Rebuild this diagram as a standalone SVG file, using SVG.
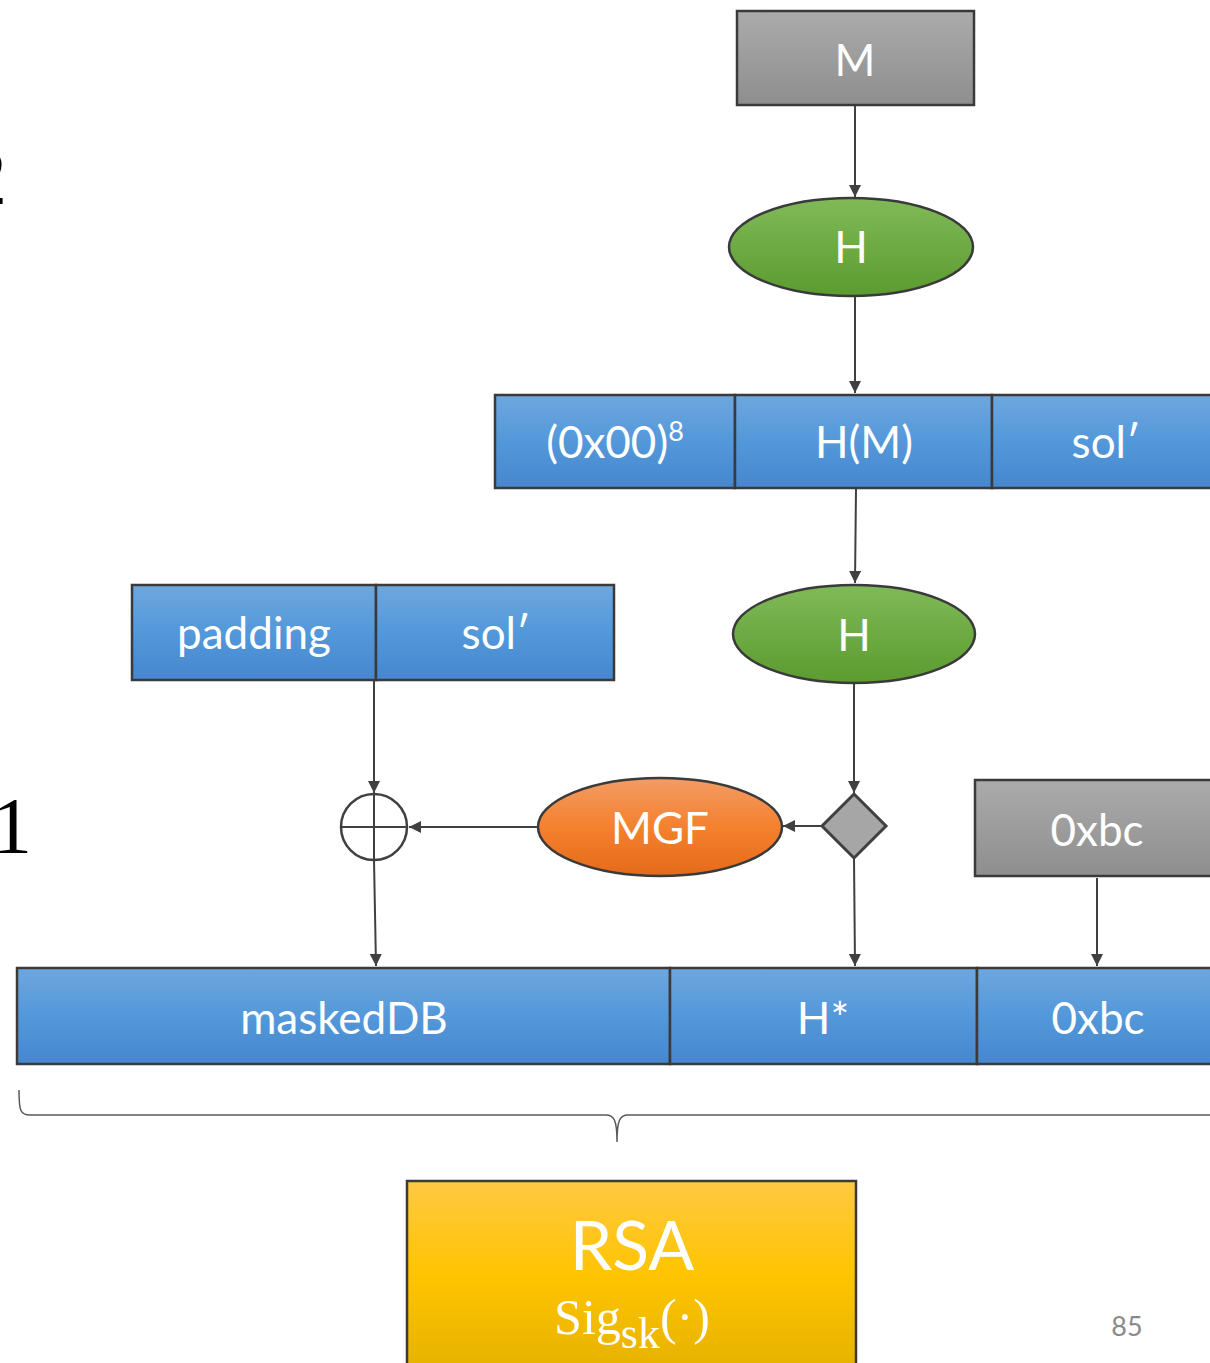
<svg xmlns="http://www.w3.org/2000/svg" width="1210" height="1363" viewBox="0 0 1210 1363">
<defs>
<linearGradient id="gGray" x1="0" y1="0" x2="0" y2="1"><stop offset="0" stop-color="#ababab"/><stop offset="1" stop-color="#8e8e8e"/></linearGradient>
<linearGradient id="gBlue" x1="0" y1="0" x2="0" y2="1"><stop offset="0" stop-color="#6fa7de"/><stop offset="0.5" stop-color="#5398da"/><stop offset="1" stop-color="#4687cf"/></linearGradient>
<linearGradient id="gGreen" x1="0" y1="0" x2="0" y2="1"><stop offset="0" stop-color="#80ba58"/><stop offset="1" stop-color="#5b9b2f"/></linearGradient>
<linearGradient id="gOrange" x1="0" y1="0" x2="0" y2="1"><stop offset="0" stop-color="#f49b64"/><stop offset="0.5" stop-color="#f4812e"/><stop offset="1" stop-color="#e46a1a"/></linearGradient>
<linearGradient id="gYellow" x1="0" y1="0" x2="0" y2="1"><stop offset="0" stop-color="#ffc942"/><stop offset="0.5" stop-color="#ffc400"/><stop offset="1" stop-color="#e6b200"/></linearGradient>
<marker id="arr" viewBox="0 0 10 10" refX="10" refY="5" markerWidth="12" markerHeight="12" markerUnits="userSpaceOnUse" orient="auto"><path d="M0,0 L10,5 L0,10 Z" fill="#404040"/></marker>
<style>
.box{stroke:#3a3a3a;stroke-width:2.5}
.lbl{font-family:Lato,"Open Sans","Liberation Sans",sans-serif;fill:#ffffff;text-anchor:middle;font-size:44px}
.conn{stroke:#404040;stroke-width:2;fill:none;marker-end:url(#arr)}
.side{font-family:"Liberation Serif","DejaVu Serif",serif;font-size:80px;fill:#000}
</style>
</defs>

<text class="side" x="-33" y="204">2</text>
<text class="side" x="-8" y="853">1</text>

<g id="node-M">
<rect class="box" x="737" y="11" width="237" height="94" fill="url(#gGray)"/>
<text class="lbl" x="855" y="76">M</text>
</g>
<g id="node-H1">
<ellipse class="box" cx="851" cy="247" rx="122" ry="49" fill="url(#gGreen)"/>
<text class="lbl" x="851" y="263">H</text>
</g>
<g id="node-Mprime">
<rect class="box" x="495" y="395" width="240" height="93" fill="url(#gBlue)"/>
<text class="lbl" x="615" y="458">(0x00)<tspan style="font-size:27px" dy="-17">8</tspan></text>
<rect class="box" x="735" y="395" width="257" height="93" fill="url(#gBlue)"/>
<text class="lbl" x="864" y="458">H(M)</text>
<rect class="box" x="992" y="395" width="225" height="93" fill="url(#gBlue)"/>
<text class="lbl" x="1106" y="458">sol′</text>
</g>
<g id="node-H2">
<ellipse class="box" cx="854" cy="634" rx="121" ry="49" fill="url(#gGreen)"/>
<text class="lbl" x="854" y="651">H</text>
</g>
<g id="node-DB">
<rect class="box" x="132" y="585" width="244" height="95" fill="url(#gBlue)"/>
<text class="lbl" x="254" y="649">padding</text>
<rect class="box" x="376" y="585" width="238" height="95" fill="url(#gBlue)"/>
<text class="lbl" x="496" y="649">sol′</text>
</g>
<g id="node-split">
<path d="M854,794 L886,826 L854,858 L822,826 Z" fill="#a6a6a6" stroke="#404040" stroke-width="3"/>
</g>
<g id="node-MGF">
<ellipse class="box" cx="660" cy="827" rx="122" ry="49" fill="url(#gOrange)"/>
<text class="lbl" x="660" y="844">MGF</text>
</g>
<g id="node-xor">
<circle cx="374" cy="827" r="33" fill="#fff" stroke="#404040" stroke-width="2.5"/>
<line x1="341" y1="827" x2="407" y2="827" stroke="#404040" stroke-width="2"/>
<line x1="374" y1="794" x2="374" y2="860" stroke="#404040" stroke-width="2"/>
</g>
<g id="node-bc">
<rect class="box" x="975" y="780" width="242" height="96" fill="url(#gGray)"/>
<text class="lbl" x="1097" y="846">0xbc</text>
</g>
<g id="node-EM">
<rect class="box" x="17" y="968" width="653" height="96" fill="url(#gBlue)"/>
<text class="lbl" x="344" y="1034">maskedDB</text>
<rect class="box" x="670" y="968" width="307" height="96" fill="url(#gBlue)"/>
<text class="lbl" x="823" y="1034">H*</text>
<rect class="box" x="977" y="968" width="240" height="96" fill="url(#gBlue)"/>
<text class="lbl" x="1098" y="1034">0xbc</text>
</g>
<g id="brace">
<path d="M19,1090 C19,1110 20,1115 30,1115 L606,1115 C614,1115 617,1120 617,1142 C617,1120 620,1115 628,1115 L1215,1115" fill="none" stroke="#595959" stroke-width="1.5"/>
</g>
<g id="node-RSA">
<rect class="box" x="407" y="1181" width="449" height="190" fill="url(#gYellow)"/>
<text class="lbl" x="632" y="1270" style="font-size:68px">RSA</text>
<text x="632" y="1334" text-anchor="middle" font-family="'Liberation Serif','DejaVu Serif',serif" font-size="50" fill="#fff">Sig<tspan font-size="44" dy="14">sk</tspan><tspan dy="-14">(·)</tspan></text>
</g>
<text x="1127" y="1336" text-anchor="middle" font-family="Lato,'Open Sans','Liberation Sans',sans-serif" font-size="27" fill="#8a8a8a">85</text>

<g id="connectors">
<line class="conn" x1="855" y1="106" x2="855" y2="197"/>
<line class="conn" x1="855" y1="297" x2="855" y2="393"/>
<line class="conn" x1="856" y1="489" x2="855" y2="583"/>
<line class="conn" x1="854" y1="684" x2="854" y2="793"/>
<line class="conn" x1="822" y1="826" x2="783" y2="826"/>
<line class="conn" x1="538" y1="827" x2="409" y2="827"/>
<line class="conn" x1="374" y1="681" x2="374" y2="793"/>
<line class="conn" x1="374" y1="860" x2="376" y2="966"/>
<line class="conn" x1="854" y1="858" x2="855" y2="966"/>
<line class="conn" x1="1097" y1="878" x2="1097" y2="966"/>
</g>
</svg>
